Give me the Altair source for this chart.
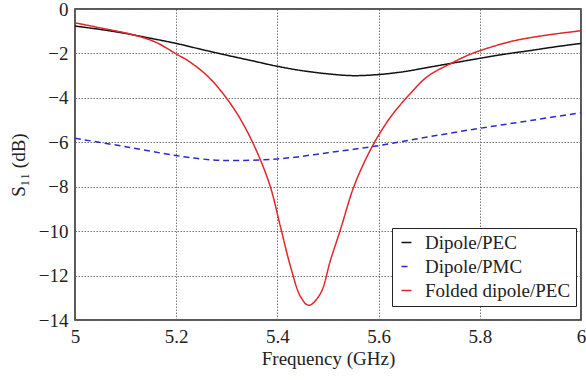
import altair as alt
import pandas as pd

series_names = ["Dipole/PEC", "Dipole/PMC", "Folded dipole/PEC"]
series_colors = ["#111111", "#2b2bd0", "#e3262b"]

freq_pec = [5.0, 5.05, 5.1, 5.15, 5.2, 5.25, 5.3, 5.35, 5.4, 5.45, 5.5, 5.55, 5.6, 5.65, 5.7, 5.75, 5.8, 5.85, 5.9, 5.95, 6.0]
s11_pec = [-0.77, -0.92, -1.1, -1.32, -1.55, -1.82, -2.08, -2.33, -2.58, -2.78, -2.92, -3.0, -2.95, -2.82, -2.62, -2.42, -2.22, -2.03, -1.87, -1.7, -1.55]

freq_pmc = [5.0, 5.1, 5.2, 5.25, 5.3, 5.4, 5.5, 5.6, 5.7, 5.8, 5.9, 6.0]
s11_pmc = [-5.82, -6.2, -6.6, -6.75, -6.82, -6.75, -6.47, -6.15, -5.75, -5.37, -5.02, -4.67]

freq_fold = [5.0, 5.05, 5.1, 5.129, 5.16, 5.2, 5.228, 5.261, 5.294, 5.327, 5.36, 5.386, 5.406, 5.426, 5.446, 5.462, 5.485, 5.505, 5.525, 5.551, 5.577, 5.597, 5.624, 5.657, 5.696, 5.743, 5.782, 5.83, 5.874, 5.94, 6.0]
s11_fold = [-0.62, -0.85, -1.08, -1.25, -1.5, -2.02, -2.4, -3.0, -3.85, -4.96, -6.45, -8.0, -9.8, -11.6, -12.96, -13.34, -12.81, -11.3, -9.9, -8.0, -6.65, -5.8, -4.85, -3.95, -3.05, -2.45, -2.03, -1.66, -1.4, -1.15, -0.98]

x_ticks = [5.0, 5.2, 5.4, 5.6, 5.8, 6.0]
y_ticks = [0, -2, -4, -6, -8, -10, -12, -14]

rows = []
for name, fx, fy in zip(series_names, [freq_pec, freq_pmc, freq_fold], [s11_pec, s11_pmc, s11_fold]):
    for i, (a, b) in enumerate(zip(fx, fy)):
        rows.append({"series": name, "freq": a, "s11": b, "order": i})
df = pd.DataFrame(rows)

FONT = "Liberation Serif"

legend = alt.Legend(title=None, orient="none", legendX=317, legendY=219)

chart = alt.Chart(df).mark_line(strokeWidth=1.5, interpolate="catmull-rom").encode(
    x=alt.X("freq:Q", title="Frequency (GHz)",
            scale=alt.Scale(domain=[5, 6], nice=False),
            axis=alt.Axis(values=x_ticks, format="~g", labelFlush=False)),
    y=alt.Y("s11:Q", title="S₁₁ (dB)",
            scale=alt.Scale(domain=[-14, 0], nice=False),
            axis=alt.Axis(values=y_ticks, format="d")),
    color=alt.Color("series:N", sort=series_names,
                    scale=alt.Scale(domain=series_names, range=series_colors),
                    legend=legend),
    strokeDash=alt.StrokeDash("series:N", sort=series_names,
                              scale=alt.Scale(domain=series_names, range=[[1, 0], [6, 4], [1, 0]]),
                              legend=legend),
    detail="series:N",
    order="order:Q",
).properties(
    width=506, height=311,
    autosize=alt.AutoSizeParams(type="none"),
    padding={"left": 75, "top": 9, "right": 5, "bottom": 60},
).configure_view(
    stroke="#222222", strokeWidth=1.5
).configure_axis(
    labelFont=FONT, titleFont=FONT, labelFontSize=19, titleFontSize=19,
    labelColor="#222222", titleColor="#222222", titleFontWeight="normal",
    grid=True, gridColor="#666666", gridDash=[1.5, 1.5], gridWidth=1, gridOpacity=0.9,
    domain=False, ticks=False, labelPadding=7,
).configure_axisX(
    titlePadding=3
).configure_axisY(
    titlePadding=10
).configure_legend(
    labelFont=FONT, labelFontSize=19, labelColor="#222222",
    strokeColor="#222222", fillColor="white", padding=5, rowPadding=4,
    symbolType="stroke", symbolSize=100, symbolStrokeWidth=1.5, labelOffset=9,
    cornerRadius=0, labelLimit=300
)

chart.save("out.html", embed_options={"renderer": "svg", "actions": False})
